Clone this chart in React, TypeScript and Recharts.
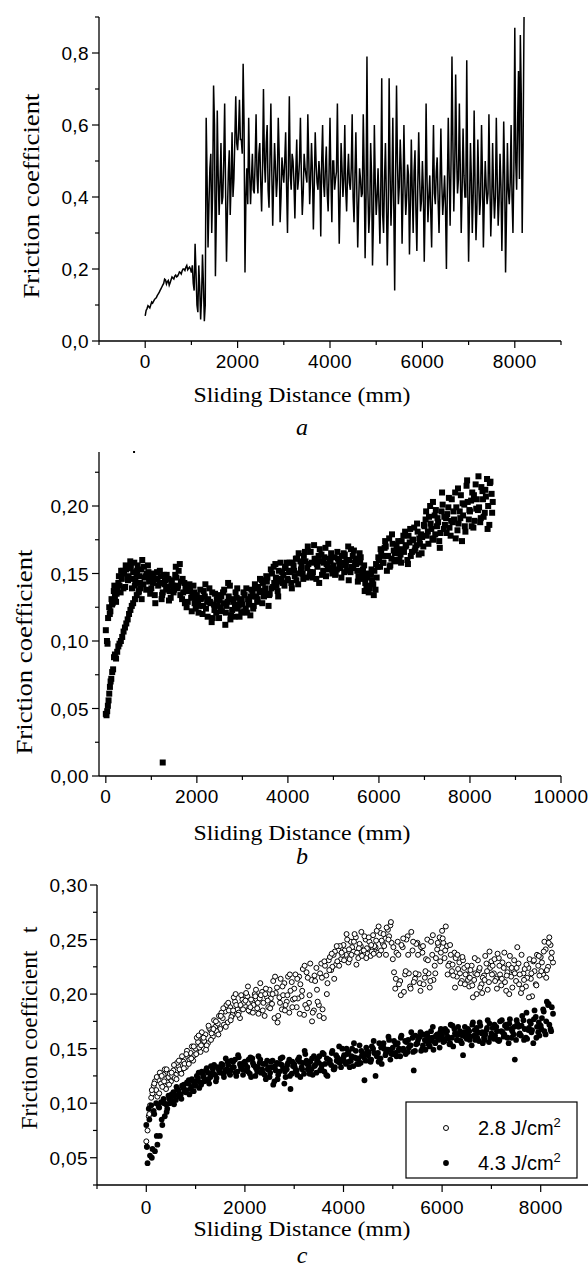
import React from "react";
import { LineChart, Line, ScatterChart, Scatter, XAxis, YAxis } from "recharts";

// ---------- a : friction coefficient, readings every 40 mm, two interleaved passes ----------
const A_STEP = 40;
const aFriction = [
  0.07, 0.09, 0.095, 0.1, 0.105, 0.115, 0.12, 0.13, 0.14, 0.15,
  0.16, 0.17, 0.165, 0.155, 0.17, 0.175, 0.18, 0.178, 0.185, 0.19,
  0.195, 0.2, 0.205, 0.198, 0.205, 0.19, 0.16, 0.27, 0.1, 0.21,
  0.06, 0.24, 0.055, 0.62, 0.26, 0.48, 0.3, 0.71, 0.18, 0.64,
  0.35, 0.55, 0.4, 0.66, 0.22, 0.47, 0.35, 0.58, 0.45, 0.68,
  0.53, 0.67, 0.56, 0.77, 0.19, 0.48, 0.62, 0.38, 0.52, 0.41,
  0.63, 0.41, 0.55, 0.36, 0.7, 0.44, 0.6, 0.37, 0.66, 0.32,
  0.55, 0.4, 0.62, 0.33, 0.51, 0.44, 0.58, 0.3, 0.68, 0.42,
  0.5, 0.34, 0.56, 0.45, 0.62, 0.35, 0.52, 0.46, 0.63, 0.38,
  0.55, 0.31, 0.58, 0.44, 0.5, 0.29, 0.6, 0.4, 0.54, 0.36,
  0.62, 0.33, 0.5, 0.45, 0.66, 0.27, 0.55, 0.4, 0.6, 0.36,
  0.52, 0.42, 0.63, 0.33, 0.58, 0.26, 0.48, 0.4, 0.63, 0.23,
  0.79, 0.3, 0.55, 0.21, 0.6, 0.35, 0.48, 0.27, 0.73, 0.3,
  0.55, 0.21, 0.73, 0.32, 0.62, 0.14, 0.71, 0.38, 0.56, 0.27,
  0.6, 0.35, 0.49, 0.24, 0.56, 0.3, 0.53, 0.25, 0.58, 0.36,
  0.5, 0.22, 0.66, 0.33, 0.46, 0.26, 0.6, 0.38, 0.51, 0.3,
  0.59, 0.35, 0.46, 0.2, 0.62, 0.32, 0.79, 0.36, 0.74, 0.41,
  0.66, 0.3, 0.59, 0.4, 0.78, 0.22, 0.55, 0.3, 0.64, 0.28,
  0.56, 0.35, 0.6, 0.26, 0.5, 0.38, 0.63, 0.29, 0.55, 0.34,
  0.62, 0.32, 0.52, 0.25, 0.61, 0.19, 0.55, 0.38, 0.6, 0.3,
  0.87, 0.42, 0.75, 0.85, 0.3, 0.9,
];
// readings in between, starting at 20 mm
const aFrictionOffset = [
  0.085, 0.098, 0.092, 0.108, 0.11, 0.118, 0.126, 0.134, 0.145, 0.155,
  0.172, 0.158, 0.168, 0.162, 0.178, 0.172, 0.183, 0.18, 0.192, 0.186,
  0.2, 0.196, 0.21, 0.202, 0.2, 0.21, 0.14, 0.19, 0.08, 0.15,
  0.12, 0.16, 0.1, 0.45, 0.38, 0.52, 0.42, 0.6, 0.35, 0.46,
  0.44, 0.38, 0.5, 0.42, 0.36, 0.53, 0.44, 0.4, 0.56, 0.55,
  0.58, 0.56, 0.52, 0.6, 0.4, 0.38, 0.47, 0.45, 0.42, 0.5,
  0.46, 0.52, 0.44, 0.48, 0.5, 0.55, 0.42, 0.5, 0.47, 0.44,
  0.48, 0.45, 0.52, 0.4, 0.47, 0.5, 0.43, 0.49, 0.46, 0.52,
  0.44, 0.47, 0.42, 0.5, 0.46, 0.41, 0.48, 0.44, 0.51, 0.45,
  0.47, 0.43, 0.49, 0.42, 0.46, 0.5, 0.44, 0.48, 0.41, 0.47,
  0.45, 0.5, 0.42, 0.47, 0.44, 0.4, 0.48, 0.45, 0.42, 0.46,
  0.44, 0.48, 0.4, 0.46, 0.42, 0.38, 0.45, 0.41, 0.47, 0.4,
  0.42, 0.36, 0.46, 0.33, 0.44, 0.4, 0.38, 0.43, 0.35, 0.45,
  0.4, 0.36, 0.47, 0.42, 0.38, 0.45, 0.5, 0.43, 0.48, 0.41,
  0.44, 0.4, 0.46, 0.38, 0.42, 0.47, 0.36, 0.43, 0.45, 0.39,
  0.42, 0.38, 0.45, 0.4, 0.36, 0.44, 0.41, 0.47, 0.39, 0.43,
  0.44, 0.4, 0.37, 0.43, 0.46, 0.5, 0.55, 0.48, 0.52, 0.45,
  0.48, 0.42, 0.46, 0.4, 0.44, 0.38, 0.45, 0.41, 0.43, 0.37,
  0.44, 0.4, 0.46, 0.39, 0.43, 0.41, 0.45, 0.38, 0.42, 0.4,
  0.45, 0.39, 0.43, 0.4, 0.46, 0.35, 0.42, 0.44, 0.4, 0.48,
  0.5, 0.6, 0.45, 0.68, 0.55,
];

// ---------- b : friction coefficient, readings every 50 mm, three interleaved passes ----------
const B_STEP = 50;
const bFriction = [
  0.108, 0.117, 0.122, 0.128, 0.133, 0.139, 0.141, 0.146, 0.15, 0.153,
  0.148, 0.155, 0.151, 0.145, 0.156, 0.143, 0.16, 0.147, 0.15, 0.144,
  0.139, 0.15, 0.146, 0.141, 0.148, 0.136, 0.145, 0.14, 0.137, 0.145,
  0.138, 0.147, 0.152, 0.144, 0.136, 0.14, 0.129, 0.137, 0.133, 0.128,
  0.134, 0.126, 0.132, 0.137, 0.124, 0.131, 0.128, 0.117, 0.135, 0.126,
  0.13, 0.122, 0.138, 0.126, 0.133, 0.119, 0.129, 0.136, 0.124, 0.131,
  0.127, 0.134, 0.121, 0.13, 0.138, 0.126, 0.133, 0.14, 0.136, 0.143,
  0.139, 0.147, 0.135, 0.15, 0.143, 0.141, 0.152, 0.146, 0.149, 0.155,
  0.145, 0.152, 0.158, 0.148, 0.161, 0.15, 0.155, 0.163, 0.147, 0.157,
  0.166, 0.151, 0.16, 0.155, 0.168, 0.149, 0.162, 0.157, 0.153, 0.165,
  0.156, 0.15, 0.161, 0.154, 0.158, 0.164, 0.152, 0.16, 0.155, 0.167,
  0.157, 0.148, 0.162, 0.153, 0.143, 0.15, 0.139, 0.145, 0.152, 0.147,
  0.16, 0.166, 0.158, 0.17, 0.163, 0.156, 0.172, 0.165, 0.168, 0.16,
  0.174, 0.166, 0.171, 0.178, 0.163, 0.175, 0.169, 0.181, 0.172, 0.177,
  0.185, 0.178, 0.192, 0.183, 0.175, 0.197, 0.188, 0.18, 0.201, 0.186,
  0.194, 0.184, 0.205, 0.19, 0.199, 0.187, 0.208, 0.193, 0.181, 0.203,
  0.196, 0.21, 0.189, 0.205, 0.199, 0.214, 0.192, 0.207, 0.2, 0.218,
  0.203,
];
// second pass, starting at 25 mm
const bFrictionOffset = [
  0.1, 0.125, 0.131, 0.137, 0.129, 0.143, 0.136, 0.152, 0.14, 0.147,
  0.154, 0.139, 0.158, 0.149, 0.137, 0.153, 0.142, 0.148, 0.156, 0.135,
  0.148, 0.134, 0.151, 0.143, 0.131, 0.149, 0.138, 0.146, 0.132, 0.141,
  0.149, 0.139, 0.157, 0.131, 0.143, 0.125, 0.139, 0.132, 0.141, 0.124,
  0.128, 0.138, 0.12, 0.133, 0.129, 0.139, 0.114, 0.127, 0.121, 0.134,
  0.125, 0.136, 0.112, 0.129, 0.141, 0.123, 0.118, 0.132, 0.127, 0.121,
  0.136, 0.124, 0.131, 0.119, 0.135, 0.142, 0.129, 0.137, 0.145, 0.133,
  0.148, 0.126, 0.153, 0.14, 0.157, 0.137, 0.144, 0.151, 0.141, 0.158,
  0.151, 0.143, 0.156, 0.161, 0.142, 0.159, 0.15, 0.166, 0.154, 0.148,
  0.158, 0.171, 0.146, 0.163, 0.159, 0.152, 0.169, 0.155, 0.161, 0.15,
  0.162, 0.153, 0.159, 0.147, 0.165, 0.156, 0.17, 0.151, 0.163, 0.158,
  0.152, 0.165, 0.146, 0.156, 0.14, 0.136, 0.149, 0.142, 0.138, 0.155,
  0.155, 0.163, 0.169, 0.152, 0.176, 0.161, 0.167, 0.159, 0.174, 0.164,
  0.168, 0.181, 0.16, 0.173, 0.166, 0.184, 0.171, 0.164, 0.179, 0.17,
  0.19, 0.181, 0.2, 0.176, 0.193, 0.185, 0.174, 0.196, 0.183, 0.191,
  0.199, 0.178, 0.188, 0.21, 0.182, 0.196, 0.174, 0.201, 0.215, 0.19,
  0.204, 0.184, 0.216, 0.197, 0.188, 0.211, 0.195, 0.22, 0.186, 0.209,
];
// third pass, starting at 37 mm
const bFrictionThird = [
  0.098, 0.12, 0.127, 0.141, 0.135, 0.148, 0.152, 0.139, 0.156, 0.145,
  0.159, 0.146, 0.141, 0.152, 0.148, 0.131, 0.155, 0.138, 0.151, 0.147,
  0.143, 0.128, 0.146, 0.152, 0.134, 0.142, 0.149, 0.13, 0.144, 0.136,
  0.155, 0.141, 0.134, 0.146, 0.128, 0.137, 0.142, 0.122, 0.136, 0.13,
  0.121, 0.131, 0.126, 0.142, 0.118, 0.129, 0.136, 0.123, 0.131, 0.117,
  0.133, 0.128, 0.121, 0.143, 0.116, 0.131, 0.126, 0.139, 0.118, 0.13,
  0.122, 0.139, 0.127, 0.133, 0.124, 0.139, 0.131, 0.146, 0.128, 0.137,
  0.144, 0.134, 0.139, 0.155, 0.147, 0.133, 0.158, 0.143, 0.154, 0.146,
  0.158, 0.139, 0.152, 0.145, 0.165, 0.153, 0.146, 0.159, 0.17, 0.151,
  0.147, 0.161, 0.157, 0.143, 0.164, 0.158, 0.148, 0.172, 0.159, 0.154,
  0.149, 0.166, 0.157, 0.163, 0.151, 0.16, 0.145, 0.168, 0.154, 0.161,
  0.144, 0.158, 0.15, 0.137, 0.147, 0.141, 0.153, 0.134, 0.157, 0.162,
  0.168, 0.158, 0.174, 0.163, 0.155, 0.179, 0.16, 0.171, 0.165, 0.158,
  0.178, 0.17, 0.157, 0.183, 0.175, 0.167, 0.187, 0.176, 0.165, 0.186,
  0.196, 0.172, 0.187, 0.203, 0.179, 0.191, 0.169, 0.21, 0.192, 0.18,
  0.206, 0.189, 0.196, 0.176, 0.213, 0.191, 0.202, 0.185, 0.219, 0.197,
  0.185, 0.208, 0.198, 0.222, 0.191, 0.205, 0.212, 0.183, 0.217, 0.195,
];
// run-in branch (lower loop at the start)
const bRunInDist = [0, 15, 30, 45, 60, 75, 90, 105, 120, 140, 160, 180, 200, 225, 250, 275, 300, 330, 360, 390, 420, 450, 480, 510, 540, 570, 600, 640, 680, 720, 760];
const bRunInFriction = [0.046, 0.045, 0.048, 0.052, 0.056, 0.061, 0.066, 0.07, 0.072, 0.077, 0.079, 0.088, 0.09, 0.087, 0.092, 0.096, 0.098, 0.1, 0.103, 0.107, 0.11, 0.113, 0.116, 0.12, 0.123, 0.126, 0.128, 0.131, 0.134, 0.136, 0.139];
const bOutlierDist = [1250];
const bOutlierFriction = [0.01];
const bSpeckDist = [620];
const bSpeckFriction = [0.24];

// ---------- c : two fluences, readings every 50 mm, three interleaved passes ----------
const C_STEP = 50;
const seriesLabels = ["2.8 J/cm", "4.3 J/cm"];
const cLow = [
  0.065, 0.088, 0.105, 0.116, 0.112, 0.121, 0.118, 0.126, 0.113, 0.124,
  0.12, 0.13, 0.126, 0.134, 0.129, 0.138, 0.133, 0.142, 0.146, 0.139,
  0.15, 0.156, 0.147, 0.158, 0.163, 0.155, 0.167, 0.161, 0.17, 0.173,
  0.168, 0.178, 0.184, 0.174, 0.188, 0.181, 0.193, 0.186, 0.178, 0.195,
  0.189, 0.198, 0.184, 0.193, 0.2, 0.187, 0.196, 0.202, 0.18, 0.197,
  0.204, 0.191, 0.178, 0.206, 0.197, 0.186, 0.21, 0.193, 0.183, 0.211,
  0.205, 0.188, 0.216, 0.198, 0.181, 0.22, 0.192, 0.213, 0.185, 0.224,
  0.19, 0.228, 0.178, 0.217, 0.231, 0.222, 0.236, 0.227, 0.24, 0.232,
  0.245, 0.236, 0.229, 0.248, 0.239, 0.252, 0.233, 0.244, 0.237, 0.25,
  0.241, 0.235, 0.254, 0.243, 0.238, 0.256, 0.246, 0.251, 0.259, 0.263,
  0.232, 0.205, 0.248, 0.212, 0.243, 0.218, 0.253, 0.207, 0.24, 0.214,
  0.247, 0.21, 0.238, 0.215, 0.25, 0.206, 0.236, 0.226, 0.241, 0.252,
  0.258, 0.233, 0.244, 0.228, 0.221, 0.238, 0.216, 0.229, 0.212, 0.224,
  0.218, 0.207, 0.226, 0.213, 0.2, 0.222, 0.209, 0.217, 0.228, 0.211,
  0.23, 0.219, 0.214, 0.233, 0.208, 0.224, 0.203, 0.227, 0.216, 0.221,
  0.212, 0.228, 0.201, 0.219, 0.207, 0.224, 0.214, 0.23, 0.209, 0.226,
  0.234, 0.218, 0.241, 0.225, 0.245, 0.229,
];
const cLowOffset = [
  0.075, 0.098, 0.109, 0.12, 0.106, 0.128, 0.115, 0.131, 0.119, 0.127,
  0.125, 0.123, 0.137, 0.131, 0.143, 0.136, 0.148, 0.14, 0.152, 0.144,
  0.16, 0.151, 0.165, 0.157, 0.153, 0.169, 0.164, 0.176, 0.166, 0.18,
  0.183, 0.172, 0.19, 0.185, 0.179, 0.197, 0.19, 0.183, 0.199, 0.192,
  0.201, 0.185, 0.195, 0.19, 0.204, 0.182, 0.199, 0.192, 0.205, 0.188,
  0.196, 0.212, 0.201, 0.18, 0.214, 0.199, 0.19, 0.216, 0.203, 0.195,
  0.218, 0.196, 0.209, 0.223, 0.19, 0.215, 0.228, 0.183, 0.212, 0.193,
  0.219, 0.186, 0.226, 0.21, 0.234, 0.225, 0.239, 0.23, 0.244, 0.236,
  0.24, 0.25, 0.232, 0.243, 0.255, 0.238, 0.246, 0.235, 0.253, 0.242,
  0.248, 0.239, 0.244, 0.258, 0.236, 0.249, 0.244, 0.261, 0.253, 0.247,
  0.22, 0.238, 0.209, 0.245, 0.202, 0.25, 0.219, 0.257, 0.211, 0.246,
  0.218, 0.243, 0.209, 0.232, 0.219, 0.248, 0.213, 0.233, 0.245, 0.238,
  0.247, 0.262, 0.226, 0.236, 0.217, 0.233, 0.223, 0.21, 0.231, 0.218,
  0.213, 0.222, 0.197, 0.219, 0.231, 0.206, 0.215, 0.235, 0.204, 0.224,
  0.226, 0.212, 0.237, 0.218, 0.229, 0.211, 0.22, 0.235, 0.206, 0.219,
  0.243, 0.218, 0.205, 0.223, 0.215, 0.232, 0.198, 0.221, 0.236, 0.217,
  0.229, 0.248, 0.222, 0.252, 0.238,
];
const cLowThird = [
  0.06, 0.09, 0.112, 0.118, 0.124, 0.109, 0.125, 0.12, 0.131, 0.117,
  0.128, 0.135, 0.122, 0.139, 0.127, 0.132, 0.145, 0.136, 0.141, 0.152,
  0.145, 0.162, 0.153, 0.16, 0.149, 0.171, 0.158, 0.168, 0.175, 0.163,
  0.18, 0.187, 0.17, 0.192, 0.176, 0.185, 0.2, 0.181, 0.19, 0.186,
  0.194, 0.207, 0.188, 0.183, 0.198, 0.192, 0.21, 0.185, 0.2, 0.194,
  0.187, 0.2, 0.216, 0.174, 0.192, 0.207, 0.185, 0.199, 0.218, 0.188,
  0.196, 0.214, 0.182, 0.203, 0.226, 0.187, 0.199, 0.175, 0.217, 0.204,
  0.18, 0.215, 0.23, 0.2, 0.222, 0.237, 0.214, 0.244, 0.226, 0.238,
  0.231, 0.255, 0.241, 0.236, 0.248, 0.227, 0.242, 0.257, 0.24, 0.233,
  0.252, 0.245, 0.237, 0.249, 0.262, 0.24, 0.255, 0.236, 0.25, 0.266,
  0.243, 0.214, 0.236, 0.199, 0.251, 0.221, 0.236, 0.205, 0.248, 0.219,
  0.236, 0.203, 0.244, 0.221, 0.231, 0.212, 0.254, 0.219, 0.247, 0.23,
  0.251, 0.24, 0.218, 0.245, 0.227, 0.206, 0.236, 0.219, 0.234, 0.209,
  0.226, 0.215, 0.208, 0.233, 0.218, 0.224, 0.201, 0.213, 0.221, 0.239,
  0.218, 0.232, 0.205, 0.226, 0.214, 0.238, 0.217, 0.2, 0.224, 0.231,
  0.224, 0.209, 0.236, 0.213, 0.227, 0.197, 0.219, 0.231, 0.208, 0.235,
  0.221, 0.239, 0.215, 0.247, 0.233,
];
const cHigh = [
  0.08, 0.095, 0.098, 0.093, 0.1, 0.097, 0.101, 0.104, 0.099, 0.107,
  0.105, 0.11, 0.103, 0.112, 0.108, 0.114, 0.11, 0.118, 0.113, 0.12,
  0.116, 0.123, 0.119, 0.126, 0.121, 0.128, 0.124, 0.131, 0.126, 0.133,
  0.128, 0.135, 0.13, 0.138, 0.126, 0.133, 0.14, 0.129, 0.136, 0.131,
  0.138, 0.133, 0.127, 0.141, 0.134, 0.129, 0.137, 0.131, 0.126, 0.139,
  0.124, 0.133, 0.12, 0.137, 0.129, 0.135, 0.118, 0.131, 0.14, 0.127,
  0.136, 0.13, 0.142, 0.133, 0.127, 0.139, 0.134, 0.131, 0.143, 0.128,
  0.137, 0.132, 0.145, 0.126, 0.14, 0.135, 0.131, 0.144, 0.138, 0.133,
  0.142, 0.136, 0.147, 0.139, 0.134, 0.148, 0.141, 0.137, 0.145, 0.139,
  0.144, 0.138, 0.15, 0.125, 0.146, 0.141, 0.153, 0.144, 0.149, 0.14,
  0.151, 0.146, 0.155, 0.143, 0.149, 0.157, 0.147, 0.153, 0.16, 0.148,
  0.155, 0.161, 0.15, 0.158, 0.164, 0.152, 0.16, 0.156, 0.163, 0.151,
  0.162, 0.157, 0.166, 0.154, 0.16, 0.168, 0.158, 0.163, 0.155, 0.165,
  0.159, 0.166, 0.153, 0.162, 0.169, 0.157, 0.164, 0.16, 0.167, 0.156,
  0.164, 0.159, 0.17, 0.157, 0.166, 0.161, 0.172, 0.155, 0.168, 0.163,
  0.158, 0.17, 0.162, 0.176, 0.16, 0.167, 0.173, 0.155, 0.179, 0.165,
  0.171, 0.186, 0.163, 0.19, 0.168, 0.182,
];
const cHighOffset = [
  0.045, 0.052, 0.058, 0.056, 0.062, 0.07, 0.08, 0.088, 0.095, 0.1,
  0.102, 0.107, 0.113, 0.106, 0.116, 0.111, 0.119, 0.108, 0.122, 0.117,
  0.125, 0.114, 0.129, 0.12, 0.132, 0.118, 0.127, 0.135, 0.123, 0.13,
  0.136, 0.124, 0.131, 0.128, 0.139, 0.133, 0.125, 0.142, 0.132, 0.137,
  0.13, 0.14, 0.124, 0.135, 0.132, 0.143, 0.128, 0.136, 0.122, 0.133,
  0.138, 0.117, 0.13, 0.126, 0.141, 0.132, 0.124, 0.137, 0.113, 0.134,
  0.129, 0.14, 0.124, 0.137, 0.145, 0.131, 0.138, 0.126, 0.135, 0.141,
  0.13, 0.146, 0.136, 0.125, 0.139, 0.148, 0.133, 0.142, 0.137, 0.15,
  0.138, 0.145, 0.133, 0.15, 0.142, 0.136, 0.153, 0.144, 0.121, 0.147,
  0.139, 0.152, 0.146, 0.143, 0.155, 0.136, 0.15, 0.147, 0.158, 0.145,
  0.157, 0.143, 0.15, 0.162, 0.148, 0.156, 0.151, 0.165, 0.13, 0.154,
  0.16, 0.148, 0.163, 0.157, 0.154, 0.166, 0.149, 0.162, 0.158, 0.168,
  0.156, 0.165, 0.159, 0.172, 0.152, 0.163, 0.17, 0.157, 0.144, 0.161,
  0.168, 0.161, 0.174, 0.158, 0.165, 0.171, 0.155, 0.163, 0.176, 0.16,
  0.169, 0.162, 0.158, 0.175, 0.165, 0.171, 0.16, 0.177, 0.166, 0.14,
  0.173, 0.164, 0.18, 0.168, 0.159, 0.175, 0.167, 0.185, 0.17, 0.162,
  0.178, 0.166, 0.193, 0.172, 0.188,
];
const cHighThird = [
  0.06, 0.085, 0.05, 0.09, 0.07, 0.096, 0.085, 0.1, 0.092, 0.104,
  0.108, 0.099, 0.115, 0.109, 0.104, 0.117, 0.112, 0.121, 0.115, 0.111,
  0.12, 0.128, 0.117, 0.124, 0.13, 0.122, 0.134, 0.127, 0.12, 0.132,
  0.133, 0.127, 0.141, 0.135, 0.13, 0.138, 0.128, 0.144, 0.134, 0.126,
  0.135, 0.129, 0.142, 0.137, 0.125, 0.133, 0.14, 0.128, 0.136, 0.131,
  0.128, 0.139, 0.134, 0.122, 0.136, 0.142, 0.129, 0.135, 0.125, 0.138,
  0.133, 0.126, 0.138, 0.131, 0.148, 0.136, 0.127, 0.141, 0.134, 0.139,
  0.143, 0.135, 0.129, 0.141, 0.137, 0.146, 0.131, 0.139, 0.152, 0.14,
  0.144, 0.15, 0.138, 0.143, 0.155, 0.141, 0.136, 0.148, 0.142, 0.151,
  0.147, 0.14, 0.157, 0.145, 0.138, 0.151, 0.155, 0.146, 0.161, 0.149,
  0.145, 0.154, 0.148, 0.16, 0.15, 0.145, 0.158, 0.153, 0.147, 0.162,
  0.158, 0.165, 0.153, 0.149, 0.161, 0.157, 0.17, 0.155, 0.16, 0.165,
  0.159, 0.168, 0.161, 0.155, 0.171, 0.164, 0.158, 0.166, 0.162, 0.17,
  0.163, 0.158, 0.172, 0.167, 0.16, 0.174, 0.165, 0.158, 0.169, 0.173,
  0.161, 0.172, 0.166, 0.158, 0.176, 0.163, 0.169, 0.173, 0.16, 0.17,
  0.176, 0.163, 0.171, 0.158, 0.183, 0.169, 0.165, 0.177, 0.16, 0.174,
  0.168, 0.184, 0.175, 0.191, 0.166,
];

// ---------- ticks ----------
const aXTicks = [-1000, 0, 1000, 2000, 3000, 4000, 5000, 6000, 7000, 8000, 9000];
const aYTicks = [0, 0.1, 0.2, 0.3, 0.4, 0.5, 0.6, 0.7, 0.8, 0.9];
const bXTicks = [0, 1000, 2000, 3000, 4000, 5000, 6000, 7000, 8000, 9000, 10000];
const bYTicks = [0, 0.025, 0.05, 0.075, 0.1, 0.125, 0.15, 0.175, 0.2, 0.225];
const cXTicks = [-1000, 0, 1000, 2000, 3000, 4000, 5000, 6000, 7000, 8000, 9000];
const cYTicks = [0.025, 0.05, 0.075, 0.1, 0.125, 0.15, 0.175, 0.2, 0.225, 0.25, 0.275, 0.3];

const SANS = "Arial, 'Liberation Sans', sans-serif";
const SERIF = "'Liberation Serif', 'Times New Roman', Times, serif";

const onGrid = (vals: number[], step: number, start = 0) => vals.map((y, i) => ({ x: start + i * step, y }));
const zipPts = (xs: number[], ys: number[]) => xs.map((x, i) => ({ x, y: ys[i] }));

function xTick(lastLabel: number, dy: number) {
  return (props: any) => {
    const { x, y, payload } = props;
    const v = payload.value;
    const major = v % 2000 === 0 && v >= 0 && v <= lastLabel;
    return (
      <g>
        <line x1={x} x2={x} y1={y} y2={y + (major ? 7 : 4)} stroke="#000" strokeWidth={1.2} />
        {major && (
          <text x={x} y={y + dy} textAnchor="middle" fontFamily={SANS} fontSize={19} letterSpacing={0.4} fill="#000">
            {v}
          </text>
        )}
      </g>
    );
  };
}

function yTick(decimals: number, majorStep: number, gap: number) {
  return (props: any) => {
    const { x, y, payload } = props;
    const v = payload.value;
    const major = Math.round(v * 1000) % Math.round(majorStep * 1000) === 0;
    return (
      <g>
        <line x1={x - (major ? 7 : 4)} x2={x} y1={y} y2={y} stroke="#000" strokeWidth={1.2} />
        {major && (
          <text x={x - gap} y={y + 7} textAnchor="end" fontFamily={SANS} fontSize={19} letterSpacing={0.4} fill="#000">
            {v.toFixed(decimals).replace(".", ",")}
          </text>
        )}
      </g>
    );
  };
}

const Square = (p: any) => <rect x={p.cx - 3} y={p.cy - 3} width={6} height={6} fill="#000" />;
const Speck = (p: any) => <rect x={p.cx - 1} y={p.cy - 1} width={2} height={2} fill="#000" />;
const OpenCircle = (p: any) => <circle cx={p.cx} cy={p.cy} r={2.5} fill="#fff" stroke="#000" strokeWidth={1} />;
const FilledCircle = (p: any) => <circle cx={p.cx} cy={p.cy} r={2.9} fill="#000" />;

const axisLine = { stroke: "#000", strokeWidth: 1.3 };

function ChartA() {
  const data = [...onGrid(aFriction, A_STEP), ...onGrid(aFrictionOffset, A_STEP, A_STEP / 2)].sort((p, q) => p.x - q.x);
  return (
    <LineChart width={588} height={420} data={data} margin={{ top: 17, right: 27, bottom: 49, left: 39 }}>
      <XAxis type="number" dataKey="x" domain={[-1000, 9000]} ticks={aXTicks} interval={0} height={30}
        tickSize={0} tickMargin={0} tickLine={false} axisLine={axisLine} tick={xTick(8000, 27)} />
      <YAxis type="number" domain={[0, 0.9]} ticks={aYTicks} interval={0} width={60}
        tickSize={0} tickMargin={0} tickLine={false} axisLine={axisLine} tick={yTick(1, 0.2, 10)} />
      <Line type="linear" dataKey="y" stroke="#000" strokeWidth={1.5} dot={false} isAnimationActive={false} />
    </LineChart>
  );
}

function ChartB() {
  return (
    <ScatterChart width={588} height={420} margin={{ top: 32, right: 27, bottom: 34, left: 39 }}>
      <XAxis type="number" dataKey="x" domain={[-150, 10000]} ticks={bXTicks} interval={0} height={30}
        tickSize={0} tickMargin={0} tickLine={false} axisLine={axisLine} tick={xTick(10000, 27)} />
      <YAxis type="number" dataKey="y" domain={[0, 0.24]} ticks={bYTicks} interval={0} width={60}
        tickSize={0} tickMargin={0} tickLine={false} axisLine={axisLine} tick={yTick(2, 0.05, 10)} />
      <Scatter data={zipPts(bRunInDist, bRunInFriction)} shape={Square} isAnimationActive={false} />
      <Scatter data={onGrid(bFriction, B_STEP)} shape={Square} isAnimationActive={false} />
      <Scatter data={onGrid(bFrictionOffset, B_STEP, 25)} shape={Square} isAnimationActive={false} />
      <Scatter data={onGrid(bFrictionThird, B_STEP, 37)} shape={Square} isAnimationActive={false} />
      <Scatter data={zipPts(bOutlierDist, bOutlierFriction)} shape={Square} isAnimationActive={false} />
      <Scatter data={zipPts(bSpeckDist, bSpeckFriction)} shape={Speck} isAnimationActive={false} />
    </ScatterChart>
  );
}

function ChartC() {
  return (
    <ScatterChart width={590} height={431} margin={{ top: 45, right: 0, bottom: 56, left: 37 }}>
      <XAxis type="number" dataKey="x" domain={[-1000, 9000]} ticks={cXTicks} interval={0} height={30}
        tickSize={0} tickMargin={0} tickLine={false} axisLine={axisLine} tick={xTick(8000, 29)} />
      <YAxis type="number" dataKey="y" domain={[0.025, 0.3]} ticks={cYTicks} interval={0} width={60}
        tickSize={0} tickMargin={0} tickLine={false} axisLine={axisLine} tick={yTick(2, 0.05, 9)} />
      <Scatter name={seriesLabels[0]} data={onGrid(cLow, C_STEP)} shape={OpenCircle} isAnimationActive={false} />
      <Scatter name={seriesLabels[0]} data={onGrid(cLowOffset, C_STEP, 25)} shape={OpenCircle} isAnimationActive={false} />
      <Scatter name={seriesLabels[0]} data={onGrid(cLowThird, C_STEP, 12)} shape={OpenCircle} isAnimationActive={false} />
      <Scatter name={seriesLabels[1]} data={onGrid(cHigh, C_STEP)} shape={FilledCircle} isAnimationActive={false} />
      <Scatter name={seriesLabels[1]} data={onGrid(cHighOffset, C_STEP, 25)} shape={FilledCircle} isAnimationActive={false} />
      <Scatter name={seriesLabels[1]} data={onGrid(cHighThird, C_STEP, 12)} shape={FilledCircle} isAnimationActive={false} />
    </ScatterChart>
  );
}

function Titles() {
  const xTitle = (y: number) => (
    <text x={302} y={y} textAnchor="middle" fontFamily={SERIF} fontSize={22} textLength={217} lengthAdjust="spacingAndGlyphs">
      Sliding Distance (mm)
    </text>
  );
  const yTitle = (x: number, y: number, label: string, len: number) => (
    <text x={x} y={y} transform={`rotate(-90 ${x} ${y})`} textAnchor="middle" fontFamily={SERIF} fontSize={24}
      textLength={len} lengthAdjust="spacingAndGlyphs">
      {label}
    </text>
  );
  const letter = (y: number, s: string) => (
    <text x={302} y={y} textAnchor="middle" fontFamily={SERIF} fontStyle="italic" fontSize={24}>{s}</text>
  );
  return (
    <svg width={588} height={1271} style={{ position: "absolute", left: 0, top: 0, pointerEvents: "none" }}>
      {yTitle(39, 196, "Friction coefficient", 205)}
      {xTitle(402)}
      {letter(435, "a")}
      {yTitle(32, 652, "Friction coefficient", 205)}
      {xTitle(840)}
      {letter(864, "b")}
      {yTitle(37, 1028, "Friction coefficient\u00a0\u00a0\u00a0t", 203)}
      {xTitle(1236)}
      {letter(1263, "c")}
      {/* legend of c */}
      <rect x={406} y={1102} width={171} height={76} fill="#fff" stroke="#000" strokeWidth={1.2} />
      <circle cx={446} cy={1128} r={2.5} fill="#fff" stroke="#000" strokeWidth={1} />
      <circle cx={446} cy={1163} r={2.9} fill="#000" />
      <text x={478} y={1135} fontFamily={SANS} fontSize={20}>
        {seriesLabels[0]}<tspan dy={-8} fontSize={13}>2</tspan>
      </text>
      <text x={478} y={1170} fontFamily={SANS} fontSize={20}>
        {seriesLabels[1]}<tspan dy={-8} fontSize={13}>2</tspan>
      </text>
    </svg>
  );
}

export default function App() {
  return (
    <div style={{ position: "absolute", left: 0, top: 0, width: 588, height: 1271, overflow: "hidden", background: "#fff" }}>
      <div style={{ position: "absolute", left: 0, top: 0 }}><ChartA /></div>
      <div style={{ position: "absolute", left: 0, top: 420 }}><ChartB /></div>
      <div style={{ position: "absolute", left: 0, top: 840 }}><ChartC /></div>
      <Titles />
    </div>
  );
}
